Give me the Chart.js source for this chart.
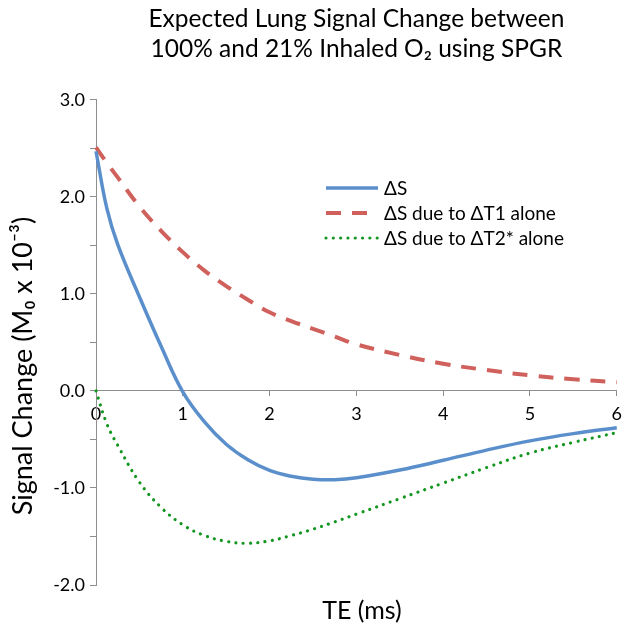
<!DOCTYPE html>
<html>
<head>
<meta charset="utf-8">
<script src="https://cdn.jsdelivr.net/npm/chart.js@4"></script>
<style>
  html, body { margin: 0; padding: 0; background: #fff; }
</style>
</head>
<body>
<canvas id="lungSignal" width="629" height="631"></canvas>
<script>
const teMs = [0, 0.125, 0.25, 0.5, 0.75, 1, 1.25, 1.5, 1.75, 2, 2.25, 2.5, 2.75, 3, 3.5, 4, 4.5, 5, 5.5, 6];

// signal change, M0 x 10^-3
const deltaS = [2.47, 1.88, 1.51, 0.97, 0.46, -0.01, -0.32, -0.55, -0.71, -0.82, -0.88, -0.91, -0.915, -0.895, -0.815, -0.715, -0.61, -0.515, -0.44, -0.38];
const deltaST1 = [2.51, 2.35, 2.2, 1.9, 1.65, 1.43, 1.24, 1.08, 0.94, 0.81, 0.72, 0.64, 0.56, 0.48, 0.37, 0.28, 0.215, 0.16, 0.12, 0.09];
const deltaST2 = [0, -0.34, -0.56, -0.94, -1.2, -1.38, -1.49, -1.55, -1.57, -1.545, -1.49, -1.425, -1.35, -1.27, -1.11, -0.95, -0.79, -0.64, -0.53, -0.43];

const seriesLabels = ["ΔS", "ΔS due to ΔT1 alone", "ΔS due to ΔT2* alone"];
const titleLines = ["Expected Lung Signal Change between", "100% and 21% Inhaled O₂ using SPGR"];
const xTitle = "TE (ms)";
const yTitle = "Signal Change (M₀ x 10⁻³)";

const fontFamily = "Lato, 'Open Sans', sans-serif";
const axisGrey = "#8e8e8e";

const toPoints = (values) => teMs.map((t, i) => ({ x: t, y: values[i] }));

// legend + axis titles drawn by hand, placed like the original
const chartText = {
  id: "chartText",
  afterDraw(chart) {
    const ctx = chart.ctx;
    ctx.save();
    ctx.fillStyle = "#000";
    ctx.textAlign = "center";
    ctx.textBaseline = "middle";
    ctx.font = "25px " + fontFamily;
    ctx.fillText(xTitle, 362, 611);

    ctx.font = "27px " + fontFamily;
    ctx.translate(23, 366);
    ctx.rotate(-Math.PI / 2);
    ctx.fillText(yTitle, 0, 0);
    ctx.restore();

    ctx.save();
    ctx.font = "19px " + fontFamily;
    ctx.textBaseline = "middle";
    chart.data.datasets.forEach((ds, i) => {
      const y = 188 + i * 25;
      ctx.beginPath();
      ctx.strokeStyle = ds.borderColor;
      ctx.lineWidth = ds.borderWidth;
      ctx.lineCap = ds.borderCapStyle || "butt";
      ctx.setLineDash(ds.borderDash || []);
      ctx.moveTo(326, y);
      ctx.lineTo(378, y);
      ctx.stroke();
      ctx.setLineDash([]);
      ctx.fillStyle = "#000";
      ctx.fillText(ds.label, 384, y + 1);
    });
    ctx.restore();
  },
};

new Chart(document.getElementById("lungSignal"), {
  type: "line",
  data: {
    datasets: [
      {
        label: seriesLabels[0],
        data: toPoints(deltaS),
        borderColor: "#5b8fcc",
        borderWidth: 3.5,
        pointRadius: 0,
        tension: 0.4,
        clip: false,
      },
      {
        label: seriesLabels[1],
        data: toPoints(deltaST1),
        borderColor: "#d0605b",
        borderWidth: 4,
        borderDash: [15, 11],
        pointRadius: 0,
        tension: 0.4,
        clip: false,
      },
      {
        label: seriesLabels[2],
        data: toPoints(deltaST2),
        borderColor: "#13961f",
        borderWidth: 3.2,
        borderDash: [0.01, 7.3],
        borderCapStyle: "round",
        pointRadius: 0,
        tension: 0.4,
        clip: false,
      },
    ],
  },
  options: {
    responsive: false,
    animation: false,
    layout: {
      padding: { top: 0, right: 12, bottom: 46, left: 0 },
    },
    plugins: {
      legend: { display: false },
      tooltip: { enabled: false },
      title: {
        display: true,
        fullSize: false,
        text: titleLines,
        color: "#000",
        font: { family: fontFamily, size: 24.5, weight: "normal", lineHeight: 1.22 },
        padding: { top: 4, bottom: 36 },
      },
    },
    scales: {
      x: {
        type: "linear",
        position: { y: 0 },
        min: 0,
        max: 6,
        ticks: {
          stepSize: 1,
          color: "#000",
          font: { family: fontFamily, size: 18 },
          padding: 7,
          maxRotation: 0,
        },
        grid: { drawOnChartArea: false, tickLength: 5, color: axisGrey },
        border: { color: axisGrey, width: 1 },
      },
      y: {
        min: -2,
        max: 3,
        ticks: {
          stepSize: 0.5,
          autoSkip: false,
          color: "#000",
          font: { family: fontFamily, size: 18 },
          padding: 5,
          callback: (v) => (Number.isInteger(v) ? v.toFixed(1) : ""),
        },
        grid: { drawOnChartArea: false, tickLength: 6, color: axisGrey },
        border: { color: axisGrey, width: 1 },
        afterFit: (scale) => {
          scale.width = 96;
        },
      },
    },
  },
  plugins: [chartText],
});
</script>
</body>
</html>
